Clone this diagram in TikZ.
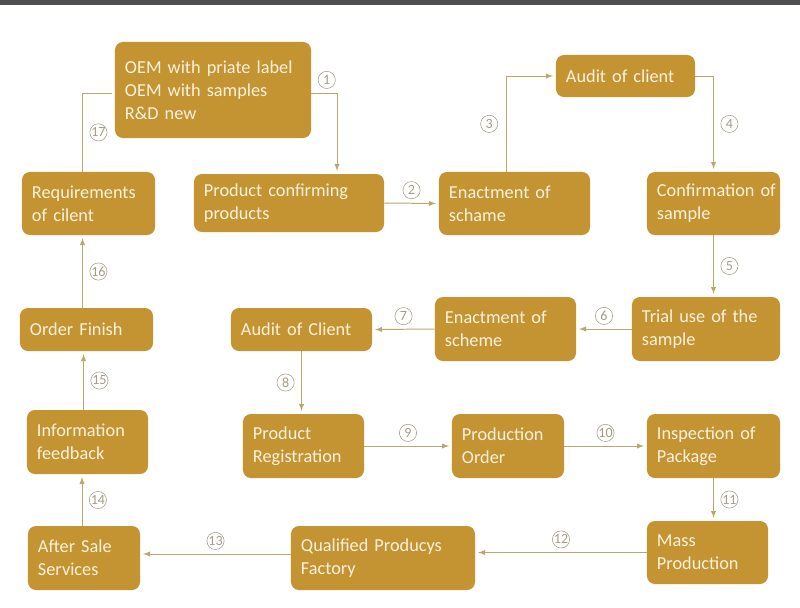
\documentclass[tikz,border=0pt]{standalone}
\usepackage{fontspec}
\setmainfont{Carlito}
\usetikzlibrary{calc}

\definecolor{gold}{HTML}{C49432}
\definecolor{cream}{HTML}{FAF2DE}
\definecolor{wire}{HTML}{B9A86C}
\definecolor{numgray}{HTML}{A39C86}
\definecolor{bar}{HTML}{4E4E50}

\begin{document}
\begin{tikzpicture}[x=0.025cm, y=-0.025cm,
    box/.style={fill=gold, rounded corners=0.2cm, text=cream, align=left,
      inner xsep=0.25cm, font=\fontsize{13}{16.5}\selectfont},
    num/.style={circle, draw=numgray, text=numgray, line width=0.4pt,
      inner sep=0pt, minimum size=0.43cm, font=\fontsize{10}{10}\selectfont},
    wire/.style={draw=wire, line width=0.7pt, -latex, shorten >=2pt}]
    \useasboundingbox (0,0) rectangle (800,607);
    \fill[bar] (0,0) rectangle (800,5);

    \node[box, text width=4.4cm, minimum height=2.4cm] (oem) at (213,90) {OEM~with~priate~label\\OEM~with~samples\\R\&D~new};
    \node[box, text width=2.825cm, minimum height=1.575cm] (req) at (88.5,203.5) {Requirements\\of~cilent};
    \node[box, text width=4.25cm, minimum height=1.45cm] (prod) at (289,203) {Product~confirming\\products};
    \node[box, text width=2.975cm, minimum height=1.05cm] (audit1) at (625.5,76) {Audit~of~client};
    \node[box, text width=3.275cm, minimum height=1.575cm] (enact1) at (514.5,203.5) {Enactment~of\\schame};
    \node[box, text width=2.825cm, minimum height=1.575cm] (conf) at (713.5,203.5) {Confirmation~of\\sample};
    \node[box, text width=2.825cm, minimum height=1.075cm] (order) at (86.5,329.5) {Order~Finish};
    \node[box, text width=3.025cm, minimum height=1.075cm] (audit2) at (301.5,329.5) {Audit~of~Client};
    \node[box, text width=3.025cm, minimum height=1.6cm] (enact2) at (505.5,329) {Enactment~of\\scheme};
    \node[box, text width=3.2cm, minimum height=1.6cm] (trial) at (706,329) {Trial~use~of~the\\sample};
    \node[box, text width=2.525cm, minimum height=1.6cm] (info) at (87.5,442) {Information\\feedback};
    \node[box, text width=2.525cm, minimum height=1.6cm] (reg) at (303.5,446) {Product\\Registration};
    \node[box, text width=2.3cm, minimum height=1.6cm] (porder) at (508,446) {Production\\Order};
    \node[box, text width=2.825cm, minimum height=1.6cm] (insp) at (713.5,446) {Inspection~of\\Package};
    \node[box, text width=2.3cm, minimum height=1.6cm] (after) at (84,558) {After~Sale\\Services};
    \node[box, text width=4.1cm, minimum height=1.6cm] (qual) at (383,558) {Qualified~Producys\\Factory};
    \node[box, text width=2.525cm, minimum height=1.575cm] (mass) at (707.5,552.5) {Mass\\Production};

    % steps 1 to 17
    \draw[wire] ([yshift=-0.075cm]oem.east) -| ([xshift=1.2cm]prod.north) node[num, pos=0.3, above=3pt] (n1) {1};
    \draw[wire] (prod.east) -- (enact1.west) node[num, midway, above=3pt] (n2) {2};
    \draw[wire] ([xshift=-0.2cm]enact1.north) |- (audit1.west) node[num, pos=0.25, left=6pt] (n3) {3};
    \draw[wire] (audit1.east) -| (conf.north) node[num, pos=0.75, right=5pt] (n4) {4};
    \draw[wire] (conf.south) -- (conf.south |- trial.north) node[num, midway, right=5pt] (n5) {5};
    \draw[wire] (trial.west) -- (enact2.east) node[num, midway, above=3pt] (n6) {6};
    \draw[wire] (enact2.west) -- (audit2.east) node[num, midway, above=3pt] (n7) {7};
    \draw[wire] (audit2.south) -- (audit2.south |- reg.north) node[num, midway, left=5pt] (n8) {8};
    \draw[wire] (reg.east) -- (porder.west) node[num, midway, above=3pt] (n9) {9};
    \draw[wire] (porder.east) -- (insp.west) node[num, midway, above=3pt] (n10) {10};
    \draw[wire] (insp.south) -- (insp.south |- mass.north) node[num, midway, right=5pt] (n11) {11};
    \draw[wire] (mass.west) -- (mass.west -| qual.east) node[num, midway, above=3pt] (n12) {12};
    \draw[wire] ([yshift=0.1cm]qual.west) -- ([yshift=0.1cm]qual.west -| after.east) node[num, midway, above=3pt] (n13) {13};
    \draw[wire] ([xshift=-0.05cm]after.north) -- ([xshift=-0.05cm]after.north |- info.south) node[num, midway, right=5pt] (n14) {14};
    \draw[wire] ([xshift=-0.1cm]info.north) -- ([xshift=-0.1cm]info.north |- order.south) node[num, midway, right=5pt] (n15) {15};
    \draw[wire] ([xshift=-0.1cm]order.north) -- ([xshift=-0.1cm]order.north |- req.south) node[num, midway, right=5pt] (n16) {16};
    \draw[wire, -] ([xshift=-0.15cm]req.north) |- ([yshift=-0.075cm]oem.west) node[num, pos=0.25, right=5pt] (n17) {17};
\end{tikzpicture}
\end{document}
